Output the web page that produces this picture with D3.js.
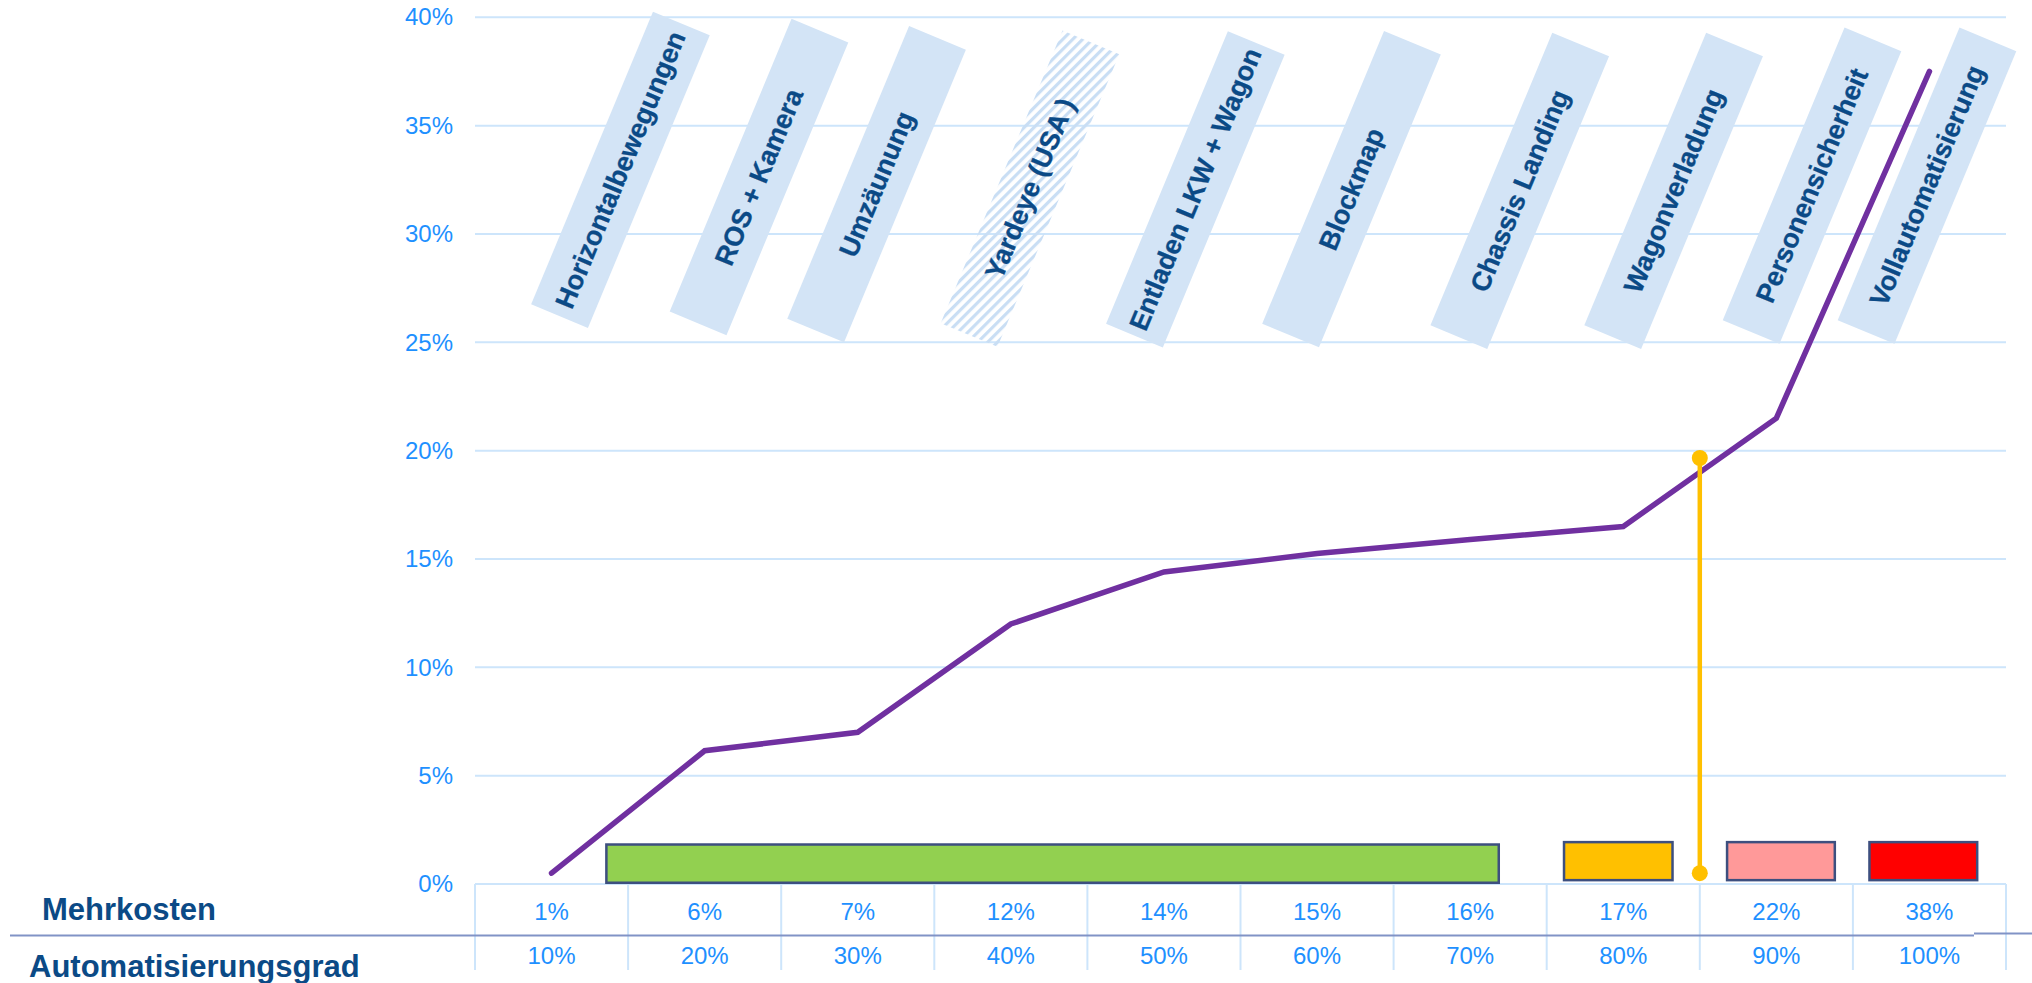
<!DOCTYPE html>
<html>
<head>
<meta charset="utf-8">
<script src="https://cdn.jsdelivr.net/npm/d3@7"></script>
<style>
  html, body { margin: 0; padding: 0; background: #ffffff; }
  svg { display: block; font-family: "Liberation Sans", Arial, Helvetica, sans-serif; }
</style>
</head>
<body>
<svg id="chart" width="2032" height="983"></svg>
<script>
// ---------------- DATA ----------------
const automationGrades = [10, 20, 30, 40, 50, 60, 70, 80, 90, 100];
const automationLabels = ["10%", "20%", "30%", "40%", "50%", "60%", "70%", "80%", "90%", "100%"];
const costLabels = ["1%", "6%", "7%", "12%", "14%", "15%", "16%", "17%", "22%", "38%"];
const costCurve = [0.5, 6.15, 7.0, 12.0, 14.4, 15.25, 15.9, 16.5, 21.5, 37.5];
const yTicks = [0, 5, 10, 15, 20, 25, 30, 35, 40];

const measureNames = ["Horizontalbewegungen", "ROS + Kamera", "Umzäunung", "Yardeye (USA )",
  "Entladen LKW + Wagon", "Blockmap", "Chassis Landing", "Wagonverladung",
  "Personensicherheit", "Vollautomatisierung"];
const measureAt = [14.5, 23.55, 31.23, 41.25, 52.05, 62.25, 73.24, 83.29, 92.33, 99.84];
const measureLevel = [32.96, 32.63, 32.30, 32.09, 32.06, 32.07, 31.99, 31.99, 32.23, 32.23];
const measureHatched = [false, false, false, true, false, false, false, false, false, false];

const phaseStart = [13.5, 76.05, 86.7, 96.0];
const phaseEnd = [71.95, 83.3, 93.9, 103.2];
const phaseLow = [0.0, 0.12, 0.12, 0.12];
const phaseHigh = [1.88, 1.99, 1.99, 1.99];
const phaseColors = ["#92D050", "#FFC000", "#FF9999", "#FF0000"];

const markerAt = 85;
const markerTop = 19.66;
const markerBottom = 0.5;

const rowHeaders = ["Mehrkosten", "Automatisierungsgrad"];

// ---------------- LAYOUT ----------------
const svg = d3.select("#chart");
const x = d3.scaleLinear().domain([5, 105]).range([475, 2006]);
const y = d3.scaleLinear().domain([0, 40]).range([884, 17.3]);

const gridColor = "#CDE5FB";
const tickColor = "#1E90FF";
const navy = "#0B4A86";

// gridlines
svg.append("g").selectAll("line").data(yTicks).join("line")
  .attr("x1", x(5)).attr("x2", x(105))
  .attr("y1", d => y(d)).attr("y2", d => y(d))
  .attr("stroke", gridColor).attr("stroke-width", 2);

// y axis labels
const yAxis = d3.axisLeft(y).tickValues(yTicks).tickFormat(d => d + "%").tickSize(0).tickPadding(22);
const ya = svg.append("g").attr("transform", `translate(${x(5)},0)`).call(yAxis);
ya.select(".domain").remove();
ya.selectAll("text").attr("fill", tickColor).attr("font-size", 24)
  .attr("font-family", "'Liberation Sans', Arial, sans-serif");

// table vertical lines
const boundaries = automationGrades.map(a => a - 5).concat([105]);
svg.append("g").selectAll("line").data(boundaries).join("line")
  .attr("x1", d => x(d)).attr("x2", d => x(d))
  .attr("y1", y(0)).attr("y2", 970)
  .attr("stroke", gridColor).attr("stroke-width", 2);

// divider line
svg.append("line").attr("x1", 10).attr("x2", 1974).attr("y1", 935.5).attr("y2", 935.5)
  .attr("stroke", "#8193C6").attr("stroke-width", 2);
svg.append("line").attr("x1", 1974).attr("x2", 2032).attr("y1", 933.5).attr("y2", 933.5)
  .attr("stroke", "#8193C6").attr("stroke-width", 2);

// table texts
svg.append("g").selectAll("text").data(costLabels).join("text")
  .attr("x", (d, i) => x(automationGrades[i])).attr("y", 920)
  .attr("text-anchor", "middle").attr("font-size", 24).attr("fill", tickColor)
  .text(d => d);
svg.append("g").selectAll("text").data(automationLabels).join("text")
  .attr("x", (d, i) => x(automationGrades[i])).attr("y", 964)
  .attr("text-anchor", "middle").attr("font-size", 24).attr("fill", tickColor)
  .text(d => d);

// row headers
svg.append("text").attr("x", 42).attr("y", 920).attr("font-size", 31).attr("font-weight", "bold")
  .attr("fill", navy).text(rowHeaders[0]);
svg.append("text").attr("x", 29).attr("y", 977).attr("font-size", 31).attr("font-weight", "bold")
  .attr("fill", navy).text(rowHeaders[1]);

// hatch pattern
const defs = svg.append("defs");
const pat = defs.append("pattern").attr("id", "hatch")
  .attr("patternUnits", "userSpaceOnUse").attr("width", 7).attr("height", 7)
  .attr("patternTransform", "rotate(112.4)");
pat.append("rect").attr("x", 0).attr("y", 0).attr("width", 3.2).attr("height", 7).attr("fill", "#C9DEF4");

// measure label boxes
const boxLen = 317, boxWid = 61.5, angle = -67.4;
const mg = svg.append("g").selectAll("g").data(measureNames).join("g")
  .attr("transform", (d, i) => `translate(${x(measureAt[i])},${y(measureLevel[i])}) rotate(${angle})`);
mg.append("rect")
  .attr("x", -boxLen / 2).attr("y", -boxWid / 2).attr("width", boxLen).attr("height", boxWid)
  .attr("fill", (d, i) => measureHatched[i] ? "url(#hatch)" : "#D3E4F6");
mg.append("text")
  .attr("x", 0).attr("y", 0).attr("dy", "0.34em")
  .attr("text-anchor", "middle").attr("font-size", 27).attr("font-weight", "bold")
  .attr("fill", navy).attr("stroke", navy).attr("stroke-width", 0.3)
  .text(d => d);

// phase bars
const bw = 2.5;
svg.append("g").selectAll("rect").data(phaseColors).join("rect")
  .attr("x", (d, i) => x(phaseStart[i]) + bw / 2)
  .attr("y", (d, i) => y(phaseHigh[i]) + bw / 2)
  .attr("width", (d, i) => x(phaseEnd[i]) - x(phaseStart[i]) - bw)
  .attr("height", (d, i) => y(phaseLow[i]) - y(phaseHigh[i]) - bw)
  .attr("fill", d => d).attr("stroke", "#3D4F7F").attr("stroke-width", bw);

// cost curve
const line = d3.line().x((d, i) => x(automationGrades[i])).y(d => y(d));
svg.append("path").datum(costCurve).attr("d", line)
  .attr("fill", "none").attr("stroke", "#7030A0").attr("stroke-width", 5.5)
  .attr("stroke-linecap", "round").attr("stroke-linejoin", "miter");

// yellow marker
svg.append("line").attr("x1", x(markerAt)).attr("x2", x(markerAt))
  .attr("y1", y(markerTop)).attr("y2", y(markerBottom))
  .attr("stroke", "#FFC000").attr("stroke-width", 4.5);
svg.append("g").selectAll("circle").data([markerTop, markerBottom]).join("circle")
  .attr("cx", x(markerAt)).attr("cy", d => y(d)).attr("r", 8).attr("fill", "#FFC000");
</script>
</body>
</html>
